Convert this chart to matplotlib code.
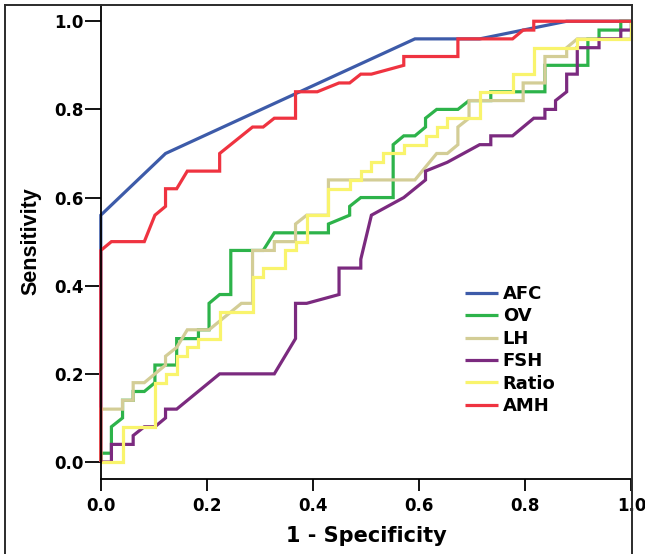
import matplotlib
matplotlib.use("Agg")
import matplotlib.pyplot as plt
from matplotlib.lines import Line2D

# ---- data (1 - specificity, sensitivity) ----
afc_x = [0, 0, 0.122, 0.592, 0.714, 0.878, 1.0]
afc_y = [0, 0.56, 0.70, 0.96, 0.96, 1.0, 1.0]

ov_x = [0, 0, 0.020, 0.020, 0.041, 0.041, 0.061, 0.061, 0.082, 0.102,
        0.102, 0.143, 0.143, 0.184, 0.184, 0.204, 0.204, 0.224, 0.245, 0.245,
        0.306, 0.327, 0.429, 0.429, 0.469, 0.469, 0.490, 0.551, 0.551, 0.571,
        0.592, 0.612, 0.612, 0.633, 0.673, 0.694, 0.735, 0.735, 0.837, 0.837,
        0.918, 0.918, 0.939, 0.939, 0.980, 0.980, 1.0]
ov_y = [0, 0.02, 0.02, 0.08, 0.10, 0.14, 0.14, 0.16, 0.16, 0.18,
        0.22, 0.22, 0.28, 0.28, 0.30, 0.30, 0.36, 0.38, 0.38, 0.48,
        0.48, 0.52, 0.52, 0.54, 0.56, 0.58, 0.60, 0.60, 0.72, 0.74,
        0.74, 0.76, 0.78, 0.80, 0.80, 0.82, 0.82, 0.84, 0.84, 0.90,
        0.90, 0.96, 0.96, 0.98, 0.98, 1.0, 1.0]

lh_x = [0, 0, 0.041, 0.041, 0.061, 0.061, 0.082, 0.122, 0.122, 0.143,
        0.163, 0.204, 0.265, 0.286, 0.286, 0.327, 0.327, 0.367, 0.367, 0.388,
        0.429, 0.429, 0.592, 0.633, 0.653, 0.673, 0.673, 0.694, 0.694, 0.796,
        0.796, 0.837, 0.837, 0.878, 0.878, 0.898, 1.0, 1.0]
lh_y = [0, 0.12, 0.12, 0.14, 0.14, 0.18, 0.18, 0.22, 0.24, 0.26,
        0.30, 0.30, 0.36, 0.36, 0.48, 0.48, 0.50, 0.50, 0.54, 0.56,
        0.56, 0.64, 0.64, 0.70, 0.70, 0.72, 0.76, 0.78, 0.82, 0.82,
        0.86, 0.86, 0.92, 0.92, 0.94, 0.96, 0.96, 1.0]

fsh_x = [0, 0.020, 0.020, 0.061, 0.061, 0.082, 0.102, 0.122, 0.122, 0.143,
         0.224, 0.327, 0.367, 0.367, 0.388, 0.449, 0.449, 0.490, 0.490, 0.510,
         0.571, 0.612, 0.612, 0.653, 0.714, 0.735, 0.735, 0.776, 0.816, 0.837,
         0.837, 0.857, 0.857, 0.878, 0.878, 0.898, 0.898, 0.939, 0.939, 0.980,
         0.980, 1.0, 1.0]
fsh_y = [0, 0, 0.04, 0.04, 0.06, 0.08, 0.08, 0.10, 0.12, 0.12,
         0.20, 0.20, 0.28, 0.36, 0.36, 0.38, 0.44, 0.44, 0.46, 0.56,
         0.60, 0.64, 0.66, 0.68, 0.72, 0.72, 0.74, 0.74, 0.78, 0.78,
         0.80, 0.80, 0.82, 0.84, 0.88, 0.88, 0.94, 0.94, 0.96, 0.96,
         0.98, 0.98, 1.0]

ratio_x = [0, 0.041, 0.041, 0.102, 0.102, 0.122, 0.122, 0.143, 0.143, 0.163,
           0.163, 0.184, 0.184, 0.224, 0.224, 0.286, 0.286, 0.306, 0.306, 0.347,
           0.347, 0.367, 0.367, 0.388, 0.388, 0.429, 0.429, 0.469, 0.469, 0.490,
           0.490, 0.510, 0.510, 0.531, 0.531, 0.571, 0.571, 0.612, 0.612, 0.633,
           0.633, 0.653, 0.653, 0.714, 0.714, 0.776, 0.776, 0.816, 0.816, 0.898,
           0.898, 1.0, 1.0]
ratio_y = [0, 0, 0.08, 0.08, 0.18, 0.18, 0.20, 0.20, 0.24, 0.24,
           0.26, 0.26, 0.28, 0.28, 0.34, 0.34, 0.42, 0.42, 0.44, 0.44,
           0.48, 0.48, 0.50, 0.50, 0.56, 0.56, 0.62, 0.62, 0.64, 0.64,
           0.66, 0.66, 0.68, 0.68, 0.70, 0.70, 0.72, 0.72, 0.74, 0.74,
           0.76, 0.76, 0.78, 0.78, 0.84, 0.84, 0.88, 0.88, 0.94, 0.94,
           0.96, 0.96, 1.0]

amh_x = [0, 0, 0.020, 0.082, 0.102, 0.122, 0.122, 0.143, 0.163, 0.224,
         0.224, 0.286, 0.306, 0.327, 0.367, 0.367, 0.408, 0.449, 0.469, 0.490,
         0.510, 0.571, 0.571, 0.673, 0.673, 0.776, 0.796, 0.816, 0.816, 1.0]
amh_y = [0, 0.48, 0.50, 0.50, 0.56, 0.58, 0.62, 0.62, 0.66, 0.66,
         0.70, 0.76, 0.76, 0.78, 0.78, 0.84, 0.84, 0.86, 0.86, 0.88,
         0.88, 0.90, 0.92, 0.92, 0.96, 0.96, 0.98, 0.98, 1.0, 1.0]

series_names = ["AFC", "OV", "LH", "FSH", "Ratio", "AMH"]
series_x = [afc_x, ov_x, lh_x, fsh_x, ratio_x, amh_x]
series_y = [afc_y, ov_y, lh_y, fsh_y, ratio_y, amh_y]
series_colors = ["#3D5BA9", "#2DB34A", "#D3CD96", "#7B2A7F", "#F9F46C", "#EF3340"]

x_ticks = [0.0, 0.2, 0.4, 0.6, 0.8, 1.0]
y_ticks = [0.0, 0.2, 0.4, 0.6, 0.8, 1.0]
tick_labels = ["0.0", "0.2", "0.4", "0.6", "0.8", "1.0"]

# ---- figure ----
W, H = 645, 554
fig = plt.figure(figsize=(W / 100, H / 100), dpi=100)
fig.patch.set_facecolor("white")

left_px, right_px = 100.8, 631.4
bottom_px, top_px = 478.5, 4.5
ax = fig.add_axes([left_px / W, 1 - bottom_px / H,
                   (right_px - left_px) / W, (bottom_px - top_px) / H])

for name, xs, ys, c in zip(series_names, series_x, series_y, series_colors):
    ax.plot(xs, ys, color=c, lw=2.3, label=name, clip_on=False,
            solid_joinstyle="miter", solid_capstyle="butt")

ax.set_xlim(0, 1.0)
ax.set_ylim(-0.0374, 1.038)

ax.spines["top"].set_visible(False)
ax.spines["right"].set_visible(False)
for s in ("left", "bottom"):
    ax.spines[s].set_linewidth(1.3)
    ax.spines[s].set_color("black")

tick_font = dict(family="DejaVu Sans", weight="bold", size=12)
ax.set_xticks(x_ticks)
ax.set_xticklabels(tick_labels, fontdict=tick_font)
ax.set_yticks(y_ticks)
ax.set_yticklabels(tick_labels, fontdict=tick_font)
ax.tick_params(axis="x", length=8.4, width=1.3, pad=5, direction="out")
ax.tick_params(axis="y", length=11.5, width=1.3, pad=1, direction="out")

ax.set_xlabel("1 - Specificity", family="DejaVu Sans", weight="bold",
              size=15, labelpad=7.5)
ax.set_ylabel("Sensitivity", family="Liberation Sans", weight="bold",
              size=15.5, labelpad=9)

leg = ax.legend(loc="upper left",
                bbox_to_anchor=(465 / W, 1 - 285 / H),
                bbox_transform=fig.transFigure,
                frameon=False, borderpad=0, borderaxespad=0,
                handlelength=1.81, handletextpad=0.28, labelspacing=0.245,
                prop=dict(family="DejaVu Sans", weight="bold", size=13))
for h in leg.get_lines():
    h.set_linewidth(2.3)

# outer chart frame
fc = "#2b2b2b"
fig.add_artist(Line2D([5 / W, 5 / W], [0, 1 - 4.5 / H], transform=fig.transFigure,
                      color=fc, lw=1.4))
fig.add_artist(Line2D([5 / W, 632 / W], [1 - 4.5 / H, 1 - 4.5 / H],
                      transform=fig.transFigure, color=fc, lw=1.4))
fig.add_artist(Line2D([632 / W, 632 / W], [0, 1 - 4.5 / H],
                      transform=fig.transFigure, color=fc, lw=1.4))

fig.savefig("out.png", dpi=100)
